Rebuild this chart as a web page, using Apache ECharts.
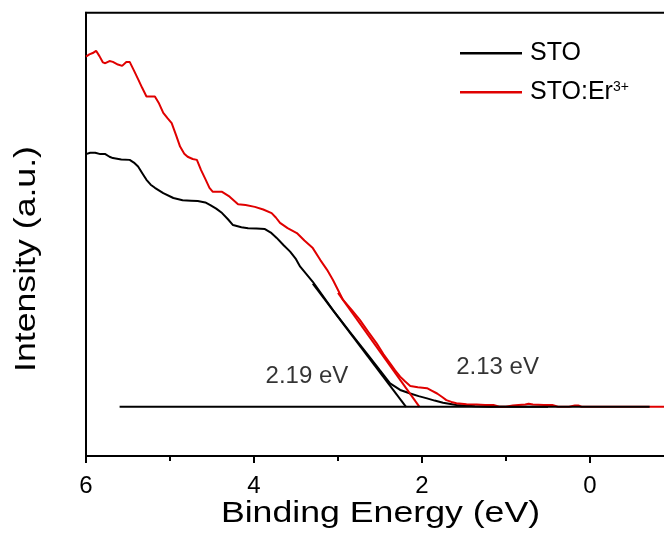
<!DOCTYPE html>
<html>
<head>
<meta charset="utf-8">
<script src="https://cdn.jsdelivr.net/npm/echarts@6/dist/echarts.min.js"></script>
<style>
html,body{margin:0;padding:0;background:#fff;}
#chart{width:664px;height:545px;}
</style>
</head>
<body>
<div id="chart"></div>
<script>
// ---- data (Binding Energy eV, Intensity a.u.) ----
const stoData = [
  [6.00,68.1],[5.95,68.4],[5.89,68.4],[5.83,68.1],[5.77,68.1],[5.72,67.5],[5.68,67.2],[5.58,66.9],
  [5.48,66.8],[5.43,66.2],[5.38,65.3],[5.33,63.8],[5.28,62.3],[5.23,61.2],[5.18,60.5],[5.08,59.3],
  [4.96,58.2],[4.85,57.7],[4.75,57.6],[4.67,57.5],[4.58,57.2],[4.52,56.6],[4.45,55.8],[4.38,54.8],
  [4.31,53.4],[4.25,52.1],[4.15,51.6],[4.07,51.4],[3.97,51.3],[3.87,51.2],[3.80,50.4],[3.73,49.2],
  [3.65,47.6],[3.57,46.1],[3.50,44.4],[3.45,42.7],[3.30,39.3],[3.06,32.9],[2.86,28.0],[2.66,23.2],
  [2.50,19.3],[2.38,16.4],[2.26,14.9],[2.14,14.1],[2.04,13.5],[1.94,13.0],[1.85,12.5],[1.75,12.0],
  [1.59,11.5],[1.37,11.2],[1.20,11.1],[0.50,11.1]
];
const stoErData = [
  [6.00,90.1],[5.96,90.6],[5.92,90.9],[5.88,91.4],[5.84,90.2],[5.80,88.8],[5.77,88.6],[5.72,89.1],
  [5.68,88.9],[5.62,88.3],[5.57,88.0],[5.52,88.9],[5.48,88.9],[5.43,87.0],[5.38,85.0],[5.33,83.0],
  [5.28,81.1],[5.18,81.1],[5.13,79.5],[5.08,77.4],[5.03,76.2],[4.98,75.1],[4.93,72.5],[4.88,69.8],
  [4.83,68.2],[4.79,67.5],[4.73,67.0],[4.68,66.8],[4.63,64.5],[4.58,62.5],[4.53,60.5],[4.49,59.6],
  [4.38,59.6],[4.29,58.5],[4.19,56.8],[4.10,56.6],[3.99,56.2],[3.89,55.6],[3.79,54.8],[3.74,53.8],
  [3.69,52.6],[3.60,51.4],[3.49,50.3],[3.40,48.6],[3.30,46.9],[3.21,44.2],[3.13,42.0],[3.06,39.7],
  [2.94,35.2],[2.84,33.0],[2.74,30.7],[2.64,28.0],[2.54,25.4],[2.46,23.0],[2.38,20.9],[2.32,19.3],
  [2.26,17.9],[2.20,16.8],[2.14,15.8],[2.05,15.5],[1.94,15.3],[1.88,14.7],[1.82,14.1],[1.76,13.3],
  [1.71,12.6],[1.65,12.2],[1.59,11.9],[1.47,11.7],[1.35,11.6],[1.25,11.5],[1.15,11.5],[1.08,11.1],
  [1.00,11.1],[0.92,11.4],[0.85,11.5],[0.77,11.6],[0.73,11.8],[0.68,11.6],[0.55,11.5],[0.45,11.5],
  [0.38,11.1],[0.25,11.1],[0.18,11.4],[0.14,11.4],[0.10,11.1],[-0.50,11.1],[-2.00,11.1]
];
const stoTangent = [[3.30,38.9],[2.19,11.1]];
const stoErTangent = [[3.00,36.8],[2.03,11.1]];
const baseline = [[5.60,11.1],[-0.71,11.1]];
const annotations = [
  {value:[3.37,17.9], name:'2.19 eV'},
  {value:[1.10,20.0], name:'2.13 eV'}
];
const seriesNames = ['STO','STO:Er3+'];
const xTicks = {min:-2, max:6, interval:2};

const FONT = '"Liberation Sans", Arial, sans-serif';
const chart = echarts.init(document.getElementById('chart'), null, {renderer:'canvas'});
const lineSeries = (name, data, color) => ({
  type:'line', name, data, showSymbol:false, symbol:'none', smooth:false,
  lineStyle:{color, width:2}, itemStyle:{color}, z:2, silent:true
});
chart.setOption({
  animation:false,
  backgroundColor:'#fff',
  grid:{left:86, top:12.7, bottom:89, right:-94, outerBoundsMode:'none', containLabel:false,
        show:true, borderColor:'#000', borderWidth:2, backgroundColor:'transparent'},
  xAxis:{
    type:'value', inverse:true, min:xTicks.min, max:xTicks.max, interval:xTicks.interval,
    axisLine:{show:true, onZero:false, lineStyle:{color:'#000', width:2}},
    axisTick:{show:true, inside:false, length:7, lineStyle:{color:'#000', width:2}},
    minorTick:{show:true, splitNumber:2, length:5, lineStyle:{color:'#000', width:2}},
    axisLabel:{fontSize:24, fontFamily:FONT, color:'#000', margin:18},
    splitLine:{show:false}
  },
  yAxis:{
    type:'value', min:0, max:100,
    axisLine:{show:true, onZero:false, lineStyle:{color:'#000', width:2}},
    axisTick:{show:false}, axisLabel:{show:false}, splitLine:{show:false}
  },
  legend:{
    data:seriesNames, orient:'vertical', left:460, top:40.7, padding:0,
    itemWidth:62, itemHeight:2.5, itemGap:14, icon:'rect',
    formatter:n => n === 'STO:Er3+' ? 'STO:Er{sup|3+}' : n,
    textStyle:{fontSize:25, fontFamily:FONT, color:'#000', padding:[0,0,0,3],
      rich:{sup:{fontSize:14, fontFamily:FONT, color:'#000', verticalAlign:'top', padding:[0,0,8,0]}}}
  },
  graphic:[
    {type:'text', x:380.5, y:513.5, scaleX:1.23, silent:true,
     style:{text:'Binding Energy (eV)', fontSize:29, fontFamily:FONT, fill:'#000', align:'center', verticalAlign:'middle'}},
    {type:'text', x:27, y:259, rotation:Math.PI/2, scaleX:1.23, silent:true,
     style:{text:'Intensity (a.u.)', fontSize:29, fontFamily:FONT, fill:'#000', align:'center', verticalAlign:'middle'}}
  ],
  series:[
    lineSeries('STO', stoData, '#000000'),
    lineSeries('stoTangent', stoTangent, '#000000'),
    lineSeries('STO:Er3+', stoErData, '#e00000'),
    lineSeries('stoErTangent', stoErTangent, '#e00000'),
    Object.assign(lineSeries('baseline', baseline, '#000000'), {z:3}),
    {type:'scatter', name:'annot', data:annotations, symbolSize:1, itemStyle:{color:'transparent'}, silent:true,
     label:{show:true, position:'inside', formatter:'{b}', fontSize:24, fontFamily:FONT, color:'#000', textBorderWidth:0}}
  ]
});
</script>
</body>
</html>
